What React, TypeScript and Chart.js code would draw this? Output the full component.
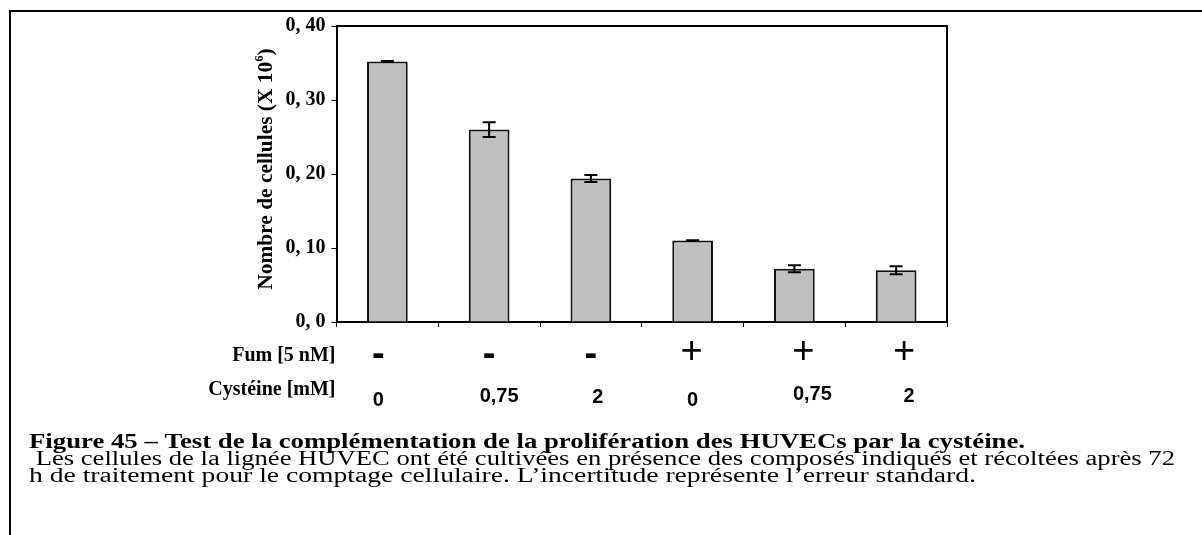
import React, { useEffect, useRef } from "react";
import { Chart, registerables } from "chart.js";

Chart.register(...registerables);

// Treatment conditions, one bar each
const fumLevels = ["-", "-", "-", "+", "+", "+"];
const cysteineLevels = ["0", "0,75", "2", "0", "0,75", "2"];

// Cell counts (x 10^6) and standard errors
const cellCounts = [0.352, 0.26, 0.194, 0.11, 0.072, 0.07];
const cellErrors = [0.0006, 0.01, 0.0047, 0.0006, 0.0047, 0.0055];

// Value axis
const yTickValues = [0, 0.1, 0.2, 0.3, 0.4];
const yTickLabels = ["0, 0", "0, 10", "0, 20", "0, 30", "0, 40"];

// Texts
const axisTitle = "Nombre de cellules (X 10";
const axisExponent = "6";
const fumRowTitle = "Fum [5 nM]";
const cysteineRowTitle = "Cystéine [mM]";
const captionTitle =
  "Figure 45 – Test de la complémentation de la prolifération des HUVECs par la cystéine.";
const captionLines = [
  " Les cellules de la lignée HUVEC ont été cultivées en présence des composés indiqués et récoltées après 72",
  "h de traitement pour le comptage cellulaire. L’incertitude représente l’erreur standard.",
];

// Small hand-placement offsets of the condition table entries (px)
const fumNudgeX = [-9, 0, 0, -1, 9, 8];
const cysNudgeX = [-9, 10, 7, 0, 18, 13];
const cysNudgeY = [3, -1.5, 0, 3, -3, -1.5];

const W = 1202;
const H = 535;
const SERIF = "'Liberation Serif', 'Times New Roman', serif";
const SANS = "'Liberation Sans', Arial, sans-serif";

// caption block: left edge, first baseline, line step, and set width of each line
const CAPTION_X = 29;
const CAPTION_Y = 448;
const CAPTION_STEP = 17.2;
const CAPTION_WIDTHS = [996, 1146, 947];

const decorPlugin = {
  id: "decor",
  afterDatasetsDraw(chart: any) {
    const ctx = chart.ctx;
    const meta = chart.getDatasetMeta(0);
    const y = chart.scales.y;
    ctx.save();
    ctx.strokeStyle = "#000";
    ctx.lineWidth = 2;
    meta.data.forEach((bar: any, i: number) => {
      const v = cellCounts[i];
      const e = cellErrors[i];
      const yTop = y.getPixelForValue(v + e);
      const yBot = y.getPixelForValue(v - e);
      const x = bar.x;
      const cap = 6.5;
      ctx.beginPath();
      ctx.moveTo(x, yTop);
      ctx.lineTo(x, yBot);
      ctx.moveTo(x - cap, yTop);
      ctx.lineTo(x + cap, yTop);
      ctx.moveTo(x - cap, yBot);
      ctx.lineTo(x + cap, yBot);
      ctx.stroke();
    });
    ctx.restore();
  },
  afterDraw(chart: any) {
    const ctx = chart.ctx;
    const area = chart.chartArea;
    const xs = chart.scales.x;
    ctx.save();

    // plot frame: top and right edges
    ctx.strokeStyle = "#000";
    ctx.lineWidth = 2;
    ctx.beginPath();
    ctx.moveTo(area.left, area.top);
    ctx.lineTo(area.right, area.top);
    ctx.lineTo(area.right, area.bottom);
    ctx.stroke();

    // outer figure frame
    ctx.beginPath();
    ctx.moveTo(10, H);
    ctx.lineTo(10, 11);
    ctx.lineTo(W, 11);
    ctx.stroke();

    // rotated axis title with superscript exponent
    ctx.fillStyle = "#000";
    ctx.save();
    ctx.translate(272, (area.top + area.bottom) / 2 - 5);
    ctx.rotate(-Math.PI / 2);
    ctx.scale(1.07, 1);
    ctx.font = `bold 20px ${SERIF}`;
    const w1 = ctx.measureText(axisTitle).width;
    ctx.font = `bold 12px ${SERIF}`;
    const w2 = ctx.measureText(axisExponent).width;
    ctx.font = `bold 20px ${SERIF}`;
    const w3 = ctx.measureText(")").width;
    let tx = -(w1 + w2 + w3) / 2;
    ctx.textBaseline = "alphabetic";
    ctx.textAlign = "left";
    ctx.fillText(axisTitle, tx, 0);
    tx += w1;
    ctx.font = `bold 12px ${SERIF}`;
    ctx.fillText(axisExponent, tx, -9);
    tx += w2;
    ctx.font = `bold 20px ${SERIF}`;
    ctx.fillText(")", tx, 0);
    ctx.restore();

    // condition table below the plot
    ctx.textBaseline = "alphabetic";
    ctx.textAlign = "right";
    ctx.font = `bold 20px ${SERIF}`;
    ctx.fillText(fumRowTitle, area.left - 1, 361);
    ctx.fillText(cysteineRowTitle, area.left - 1, 395);

    ctx.textAlign = "center";
    fumLevels.forEach((s, i) => {
      const cx = xs.getPixelForValue(i) + fumNudgeX[i];
      if (s === "+") {
        ctx.font = `normal 38px ${SANS}`;
        ctx.fillText(s, cx, 363);
      } else {
        ctx.font = `bold 38px ${SANS}`;
        ctx.fillText(s, cx, 366);
      }
    });
    ctx.font = `bold 20px ${SANS}`;
    cysteineLevels.forEach((s, i) => {
      const cx = xs.getPixelForValue(i) + cysNudgeX[i];
      ctx.fillText(s, cx, 403 + cysNudgeY[i]);
    });

    // caption, each line set in a horizontally widened serif
    ctx.textAlign = "left";
    const lines = [captionTitle, ...captionLines];
    lines.forEach((line, k) => {
      ctx.font = `${k === 0 ? "bold" : "normal"} 20px ${SERIF}`;
      const sx = CAPTION_WIDTHS[k] / ctx.measureText(line).width;
      ctx.save();
      ctx.translate(CAPTION_X, CAPTION_Y + CAPTION_STEP * k);
      ctx.scale(sx, 1);
      ctx.fillText(line, 0, 0);
      ctx.restore();
    });

    ctx.restore();
  },
};

export default function App() {
  const ref = useRef<HTMLCanvasElement | null>(null);

  useEffect(() => {
    if (!ref.current) return;
    const chart = new Chart(ref.current, {
      type: "bar",
      data: {
        labels: fumLevels.map((f, i) => `${f} / ${cysteineLevels[i]}`),
        datasets: [
          {
            data: cellCounts,
            backgroundColor: "#c0c0c0",
            borderColor: "#111",
            borderWidth: 2,
            barPercentage: 0.4,
            categoryPercentage: 1,
          },
        ],
      },
      options: {
        responsive: false,
        animation: false,
        devicePixelRatio: 1,
        layout: { padding: { left: 0, top: 26, right: 255, bottom: 207 } },
        plugins: {
          legend: { display: false },
          tooltip: { enabled: false },
          title: { display: false },
        },
        scales: {
          x: {
            type: "category",
            offset: true,
            grid: {
              offset: true,
              drawOnChartArea: false,
              drawTicks: true,
              tickLength: 5,
              color: "#000",
              lineWidth: 1,
            },
            border: { display: true, color: "#000", width: 2 },
            ticks: { display: false },
            afterFit: (s: any) => {
              s.height = 6;
            },
          },
          y: {
            min: 0,
            max: 0.4,
            afterBuildTicks: (s: any) => {
              s.ticks = yTickValues.map((v) => ({ value: v }));
            },
            ticks: {
              padding: 6,
              color: "#000",
              font: { family: "Liberation Serif", size: 20, weight: "bold" },
              callback: (v: any) => {
                const idx = yTickValues.findIndex((t) => Math.abs(t - Number(v)) < 1e-9);
                return idx >= 0 ? yTickLabels[idx] : "";
              },
            },
            grid: {
              drawOnChartArea: false,
              drawTicks: true,
              tickLength: 5,
              color: "#000",
              lineWidth: 1,
            },
            border: { display: true, color: "#000", width: 2 },
            afterFit: (s: any) => {
              s.width = 336.5;
            },
          },
        },
      },
      plugins: [decorPlugin],
    });
    return () => chart.destroy();
  }, []);

  return (
    <div style={{ position: "absolute", left: 0, top: 0, width: W, height: H, background: "#fff" }}>
      <canvas ref={ref} width={W} height={H} style={{ display: "block", width: W, height: H }} />
    </div>
  );
}
